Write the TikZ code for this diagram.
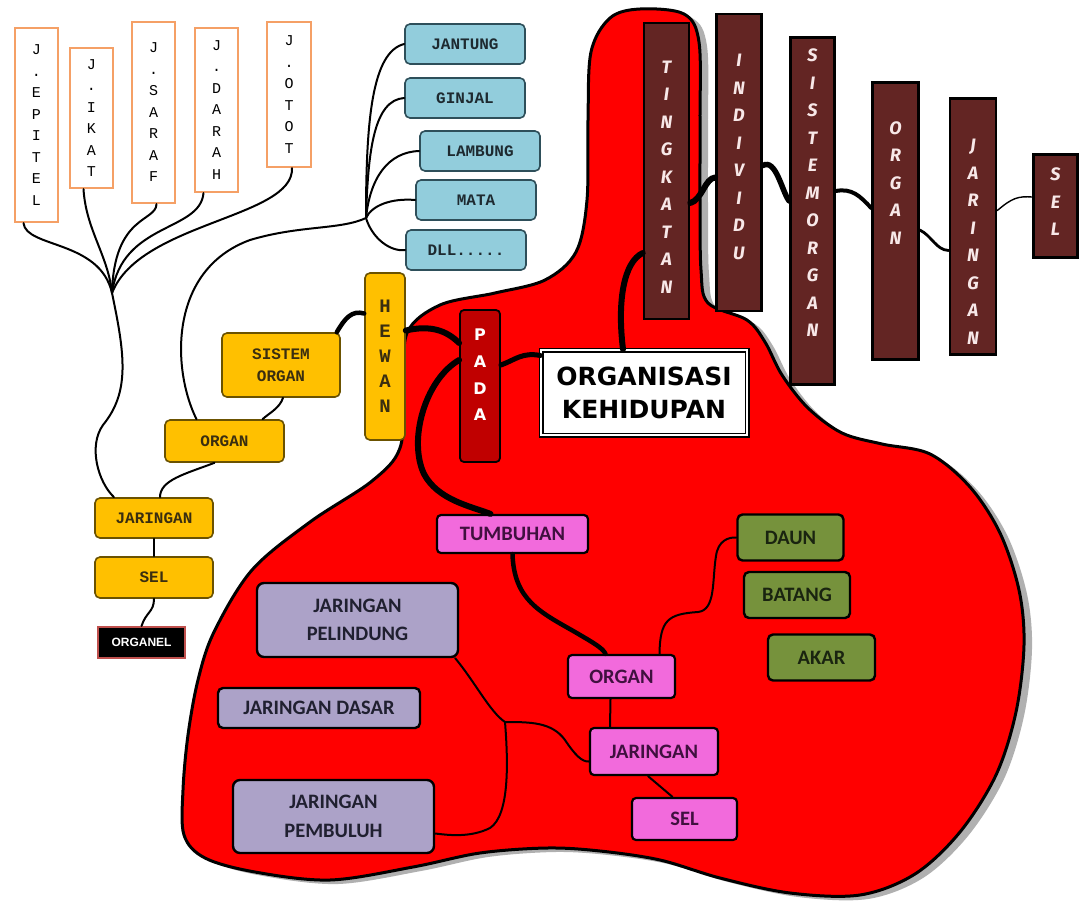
\documentclass[tikz,border=0pt]{standalone}
\usepackage{fontspec}
\setmainfont{Liberation Sans}
\newfontfamily\monofnt{Liberation Mono}
\newfontfamily\calfnt{Carlito}
\newfontfamily\verdfnt{DejaVu Sans}
\newfontfamily\brushfnt{Fira Sans}
\newfontfamily\arialfnt{Liberation Sans}

\definecolor{blobred}{HTML}{FF0000}
\definecolor{shadowgray}{HTML}{B0B0B0}
\definecolor{jorange}{HTML}{F5A066}
\definecolor{bluefill}{HTML}{92CDDC}
\definecolor{blueline}{HTML}{2E4F5A}
\definecolor{bluetxt}{HTML}{1E2A30}
\definecolor{ylfill}{HTML}{FFC000}
\definecolor{ylline}{HTML}{6B5200}
\definecolor{yltxt}{HTML}{3A2E10}
\definecolor{brfill}{HTML}{632523}
\definecolor{brtxt}{HTML}{F8E8E8}
\definecolor{padafill}{HTML}{C00000}
\definecolor{pkfill}{HTML}{F26ADC}
\definecolor{pktxt}{HTML}{40103F}
\definecolor{pufill}{HTML}{ACA2C8}
\definecolor{putxt}{HTML}{202030}
\definecolor{gnfill}{HTML}{76923C}
\definecolor{gntxt}{HTML}{1A2410}
\definecolor{organelline}{HTML}{C0504D}

\tikzset{
  blobpath/.style={insert path={plot[smooth cycle, tension=0.55] coordinates {
    (640,9) (684,14) (699,42) (700,120) (700,200) (701,270) (708,303)
    (747,320) (765,342) (782,375) (808,408) (842,433) (882,444) (930,454)
    (970,487) (1000,533) (1019,590) (1024,645) (1016,712) (996,775)
    (960,832) (915,874) (860,895) (790,893) (720,878) (660,860) (600,851)
    (547,848) (480,853) (413,867) (330,880) (255,872) (205,858) (184,835)
    (183,790) (188,735) (198,680) (214,632) (252,570) (310,522) (372,481)
    (400,448) (404,390) (407,333) (440,305) (495,293) (545,280) (576,252)
    (587,200) (588,120) (591,52) (610,18)}}},
  jbox/.style={draw=jorange, line width=2.2pt, fill=white, inner sep=0pt,
    align=center, font=\monofnt\fontsize{15}{21.5}\selectfont},
  bluebox/.style={draw=blueline, line width=1.6pt, fill=bluefill,
    rounded corners=5pt, inner sep=0pt, minimum width=120, minimum height=40,
    text=bluetxt, font=\monofnt\bfseries\fontsize{16}{20}\selectfont},
  ylbox/.style={draw=ylline, line width=1.6pt, fill=ylfill,
    rounded corners=5pt, inner sep=0pt, align=center, text=yltxt,
    font=\monofnt\bfseries\fontsize{16}{22}\selectfont},
  brbox/.style={draw=black, line width=2.6pt, fill=brfill, inner sep=0pt},
  brtext/.style={text=brtxt, align=center, inner sep=0pt,
    font=\brushfnt\bfseries\itshape\fontsize{18}{27.5}\selectfont},
  pkbox/.style={draw=black, line width=2.2pt, fill=pkfill, rounded corners=4pt,
    inner sep=0pt, text=pktxt, align=center,
    font=\calfnt\bfseries\fontsize{20.5}{28}\selectfont},
  pubox/.style={draw=black, line width=2.4pt, fill=pufill, rounded corners=7pt,
    inner sep=0pt, text=putxt, align=center,
    font=\calfnt\bfseries\fontsize{20.5}{28.5}\selectfont},
  gnbox/.style={draw=black, line width=2.4pt, fill=gnfill, rounded corners=5pt,
    inner sep=0pt, text=gntxt, minimum width=106, minimum height=46,
    font=\calfnt\bfseries\fontsize{20.5}{24}\selectfont},
  wire/.style={draw=black, line width=2pt, line cap=round},
  heavywire/.style={draw=black, line width=6pt, line cap=round},
}

\begin{document}
\begin{tikzpicture}[x=1pt, y=-1pt]
\useasboundingbox (0,0) rectangle (1079,900);
\fill[white] (0,0) rectangle (1079,900);

% the red body with its grey drop shadow
\begin{scope}[shift={(8,4)}]
  \fill[shadowgray] [blobpath];
\end{scope}
\draw[fill=blobred, line width=3pt] [blobpath];

% ---- tissue columns (top left)
\node[jbox, minimum width=43, minimum height=194] (jep) at (36.5,125) {J\\.\\E\\P\\I\\T\\E\\L};
\node[jbox, minimum width=43, minimum height=140] (jik) at (91.5,118) {J\\.\\I\\K\\A\\T};
\node[jbox, minimum width=43, minimum height=181] (jsa) at (153.5,112.5) {J\\.\\S\\A\\R\\A\\F};
\node[jbox, minimum width=43, minimum height=164] (jda) at (216.5,110) {J\\.\\D\\A\\R\\A\\H};
\node[jbox, minimum width=44, minimum height=145] (jot) at (289,94.5) {J\\.\\O\\T\\O\\T};

% ---- organs of animals
\node[bluebox] (bjan) at (465,44) {JANTUNG};
\node[bluebox] (bgin) at (465,98) {GINJAL};
\node[bluebox] (blam) at (480,151) {LAMBUNG};
\node[bluebox] (bmat) at (476,200) {MATA};
\node[bluebox] (bdll) at (466,250) {DLL.....};

% ---- animal branch
\node[ylbox, minimum width=40, minimum height=167,
      font=\monofnt\bfseries\fontsize{19}{25}\selectfont] (hewan) at (385,356.5) {H\\E\\W\\A\\N};
\node[ylbox, minimum width=118, minimum height=64] (ysis) at (281,365) {SISTEM\\ORGAN};
\node[ylbox, minimum width=119, minimum height=42] (yorg) at (224.5,441) {ORGAN};
\node[ylbox, minimum width=118, minimum height=40] (yjar) at (154,518) {JARINGAN};
\node[ylbox, minimum width=118, minimum height=41] (ysel) at (154,577.5) {SEL};
\node[draw=organelline, line width=2pt, fill=black, text=white, inner sep=0pt,
      minimum width=87, minimum height=31,
      font=\arialfnt\bfseries\fontsize{12}{14}\selectfont] (organel) at (141.5,642.5) {ORGANEL};

% ---- centre
\node[draw=black, line width=1.8pt, fill=padafill, rounded corners=4pt,
      minimum width=40, minimum height=152, inner sep=0pt] (pada) at (480,386) {};
\node[text=white, align=center, inner sep=0pt,
      font=\verdfnt\bfseries\fontsize{16}{26.7}\selectfont] (pada-t) at (480,375) {P\\A\\D\\A};
\node[draw=black, double=white, double distance=2.4pt, line width=1.3pt,
      fill=white, inner sep=0pt, minimum width=206, minimum height=85, align=center,
      font=\verdfnt\bfseries\fontsize{25}{33}\selectfont] (org) at (644,392.5)
      {ORGANISASI\\KEHIDUPAN};

% ---- levels of organisation (top right)
\node[brbox, minimum width=45, minimum height=296] (tk) at (666.5,171) {};
\node[brtext] (tk-t) at (666.5,177) {T\\I\\N\\G\\K\\A\\T\\A\\N};
\node[brbox, minimum width=45, minimum height=297] (ind) at (739,162.5) {};
\node[brtext] (ind-t) at (739,157) {I\\N\\D\\I\\V\\I\\D\\U};
\node[brbox, minimum width=44, minimum height=347] (so) at (812.5,211) {};
\node[brtext] (so-t) at (812.5,193) {S\\I\\S\\T\\E\\M\\O\\R\\G\\A\\N};
\node[brbox, minimum width=46, minimum height=277] (org2) at (895.5,221) {};
\node[brtext] (org2-t) at (895.5,183) {O\\R\\G\\A\\N};
\node[brbox, minimum width=46, minimum height=256] (jr2) at (973,226.5) {};
\node[brtext] (jr2-t) at (973,242) {J\\A\\R\\I\\N\\G\\A\\N};
\node[brbox, minimum width=44, minimum height=103] (sel2) at (1055.5,206) {};
\node[brtext] (sel2-t) at (1055.5,202) {S\\E\\L};

% ---- plant branch
\node[pkbox, minimum width=151, minimum height=38] (tumb) at (512.5,534) {TUMBUHAN};
\node[pkbox, minimum width=107, minimum height=43] (porg) at (621.5,676.5) {ORGAN};
\node[pkbox, minimum width=128, minimum height=47] (pjar) at (654,751.5) {JARINGAN};
\node[pkbox, minimum width=105, minimum height=42] (psel) at (684.5,819) {SEL};
\node[pubox, minimum width=201, minimum height=74] (pel) at (357.5,620) {JARINGAN\\PELINDUNG};
\node[pubox, minimum width=202, minimum height=40, rounded corners=5pt] (das) at (319,708) {JARINGAN DASAR};
\node[pubox, minimum width=201, minimum height=73] (pem) at (333.5,816.5) {JARINGAN\\PEMBULUH};
\node[gnbox] (daun) at (790.5,537.5) {DAUN};
\node[gnbox] (batang) at (797,595) {BATANG};
\node[gnbox, minimum width=107] (akar) at (821.5,657.5) {AKAR};

% ---- junctions
\coordinate (jt) at (112,293);
\coordinate (bj) at (366,218);
\coordinate (gj) at (505,722);

% ---- tissue tree
\draw[wire] ([xshift=-13pt]jep.south) .. controls (26,248) and (100,240) .. (jt);
\draw[wire] ([xshift=-8pt]jik.south) .. controls (86,230) and (108,255) .. (jt);
\draw[wire] ([xshift=3pt]jsa.south) .. controls (156,222) and (114,215) .. (jt);
\draw[wire] ([xshift=-13pt]jda.south) .. controls (200,232) and (122,222) .. (jt);
\draw[wire] ([xshift=3pt]jot.south) .. controls (294,218) and (140,222) .. (jt);
\draw[wire] (jt) .. controls (125,355) and (130,392) .. (103,425)
                 .. controls (88,446) and (98,482) .. ([xshift=-40pt]yjar.north);

% ---- organ tree
\draw[wire] (bj) .. controls (366,120) and (372,52) .. (bjan.west);
\draw[wire] (bj) .. controls (368,150) and (374,100) .. (bgin.west);
\draw[wire] (bj) .. controls (370,178) and (388,152) .. (blam.west);
\draw[wire] (bj) .. controls (372,205) and (392,198) .. (bmat.west);
\draw[wire] (bj) .. controls (372,238) and (390,252) .. (bdll.west);
\draw[wire] ([xshift=-28pt]yorg.north) .. controls (172,370) and (168,270) .. (250,240)
                 .. controls (300,225) and (340,230) .. (bj);

% ---- animal chain
\draw[draw=black, line width=4.5pt, line cap=round]
  ([yshift=43pt]hewan.west) .. controls (352,310) and (345,318) .. ([xshift=-4pt]ysis.north east);
\draw[wire] ([xshift=2pt]ysis.south) .. controls (280,408) and (268,414) .. ([xshift=38pt]yorg.north);
\draw[wire] ([xshift=-10pt]yorg.south) .. controls (185,474) and (160,480) .. ([xshift=6pt]yjar.north);
\draw[wire] (yjar.south) -- (ysel.north);
\draw[wire] (ysel.south) .. controls (154,612) and (146,612) .. (organel.north);

% ---- central links
\draw[heavywire] ([yshift=26pt]hewan.east) .. controls (430,325) and (446,330) .. ([yshift=43pt]pada.west);
\draw[heavywire] ([yshift=26pt]pada.west) .. controls (425,380) and (408,440) .. (424,474)
                 .. controls (438,500) and (470,506) .. ([xshift=-22pt]tumb.north);
\draw[draw=black, line width=5pt, line cap=round]
  ([yshift=21pt]pada.east) .. controls (515,360) and (522,352) .. ([yshift=37pt]org.west);
\draw[heavywire] ([xshift=-21pt]org.north) .. controls (617,300) and (624,262) .. ([yshift=-82pt]tk.west);

% ---- level chain
\draw[heavywire] ([yshift=-32pt]tk.east) .. controls (702,200) and (705,178) .. ([yshift=-15pt]ind.west);
\draw[draw=black, line width=5.5pt, line cap=round]
  ([yshift=-3pt]ind.east) .. controls (776,158) and (782,192) .. ([yshift=10pt]so.west);
\draw[draw=black, line width=4pt, line cap=round]
  ([yshift=20pt]so.east) .. controls (852,188) and (860,196) .. ([yshift=13pt]org2.west);
\draw[draw=black, line width=2.8pt, line cap=round]
  ([yshift=-9pt]org2.east) .. controls (932,236) and (936,250) .. ([yshift=-24pt]jr2.west);
\draw[draw=black, line width=1.4pt, line cap=round]
  ([yshift=16pt]jr2.east) .. controls (1012,198) and (1018,196) .. ([yshift=9pt]sel2.west);

% ---- plant links
\draw[draw=black, line width=4.5pt, line cap=round]
  (tumb.south) .. controls (514,600) and (540,612) .. (575,632)
  .. controls (592,642) and (603,648) .. ([xshift=-16pt]porg.north);
\draw[wire] ([xshift=38pt]porg.north) .. controls (660,620) and (668,614) .. (698,612)
  .. controls (716,610) and (712,580) .. (716,556)
  .. controls (718,541) and (728,537) .. (daun.west);
\draw[wire] ([xshift=-11pt]porg.south) -- ([xshift=-44pt]pjar.north);
\draw[wire] ([xshift=-6pt]pjar.south) -- ([xshift=-12pt]psel.north);
\draw[wire] ([xshift=-4pt]pel.south east) .. controls (475,682) and (490,712) .. (gj);
\draw[wire] (gj) .. controls (530,722) and (552,722) .. (565,740)
  .. controls (575,755) and (582,762) .. ([yshift=-10pt]pjar.west);
\draw[wire] (gj) .. controls (508,760) and (510,815) .. (490,828)
  .. controls (470,838) and (448,835) .. ([yshift=-17pt]pem.east);
\end{tikzpicture}
\end{document}
